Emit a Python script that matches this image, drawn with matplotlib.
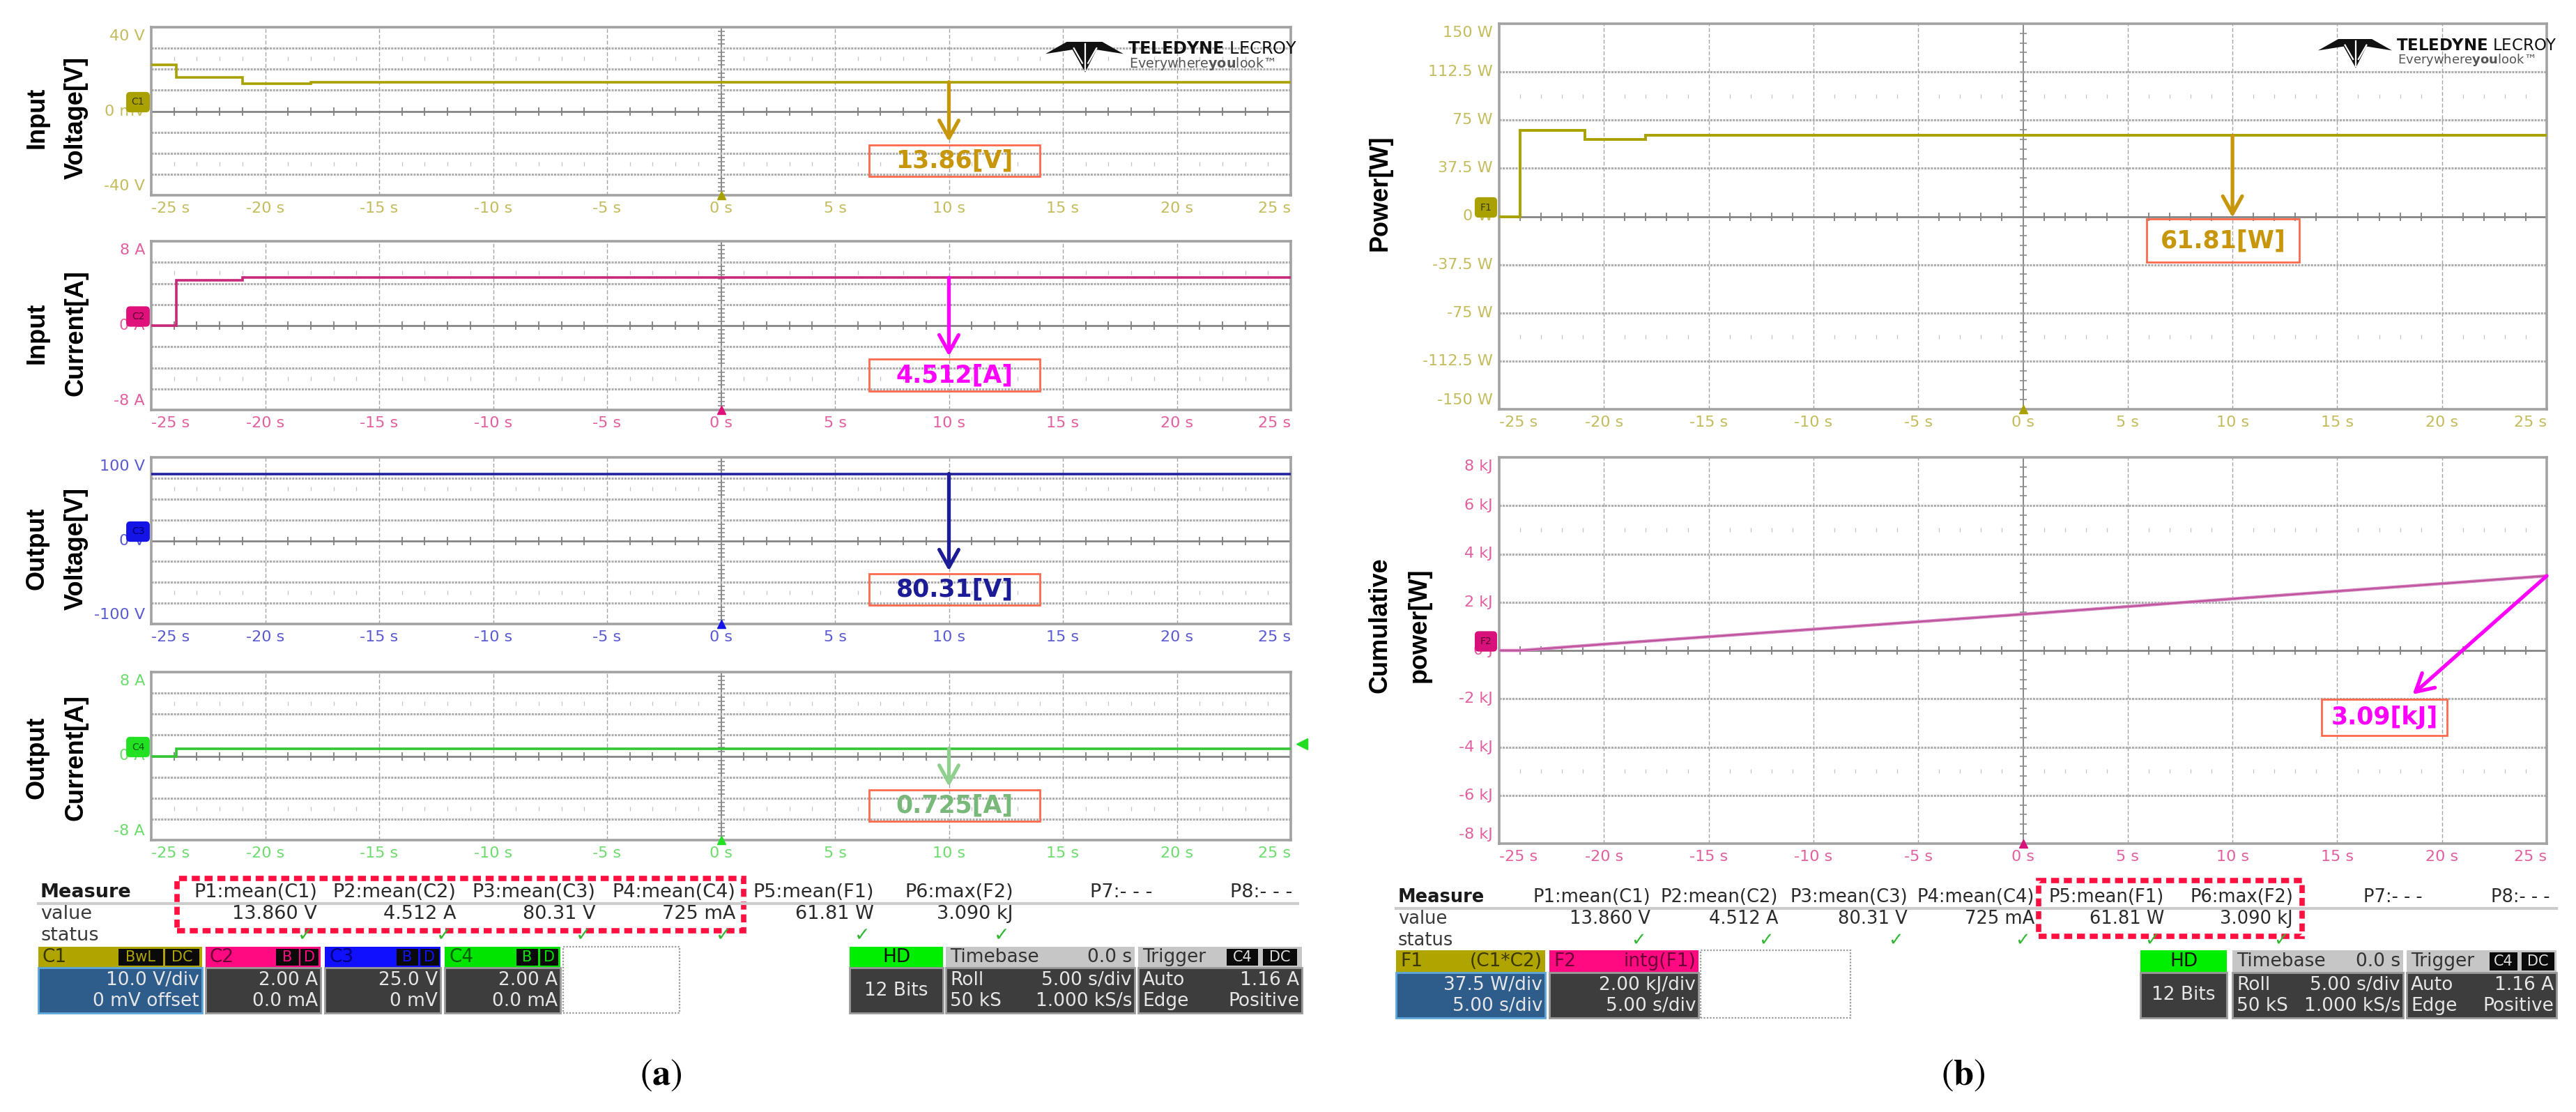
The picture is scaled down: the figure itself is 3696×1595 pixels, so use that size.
import matplotlib

matplotlib.use("Agg")
import matplotlib.pyplot as plt
import numpy as np
from matplotlib.lines import Line2D
from matplotlib.patches import Polygon, Rectangle

plt.rcParams["font.family"] = ["DejaVu Sans"]
plt.rcParams["mathtext.fontset"] = "stix"

W_PX, H_PX, DPI = 3696, 1595, 100

# ---------------------------------------------------------------- data
SCREEN_T = [-25, -20, -15, -10, -5, 0, 5, 10, 15, 20, 25]
TIME_LABELS = ["-25 s", "-20 s", "-15 s", "-10 s", "-5 s", "0 s",
               "5 s", "10 s", "15 s", "20 s", "25 s"]

# units per vertical division (8 divisions per screen)
VIN_DIV, IIN_DIV, VOUT_DIV, IOUT_DIV = 10.0, 2.0, 25.0, 2.0
PWR_DIV, ENERGY_DIV = 37.5, 2.0

VIN_EDGES = [-25.0, -23.9, -21.0, -18.0, 25.0]
VIN_LEVELS = [22.0, 16.0, 13.2, 13.9]
IIN_EDGES = [-25.0, -23.9, -21.0, 25.0]
IIN_LEVELS = [0.0, 4.3, 4.55]
VOUT_EDGES = [-25.0, 25.0]
VOUT_LEVELS = [80.3]
IOUT_EDGES = [-25.0, -23.9, 25.0]
IOUT_LEVELS = [0.0, 0.73]
PWR_EDGES = [-25.0, -24.0, -20.9, -18.0, 25.0]
PWR_LEVELS = [0.0, 67.0, 60.0, 63.0]
ENERGY_T = [-25.0, -24.0, -20.0, -10.0, 0.0, 10.0, 20.0, 25.0]
ENERGY_KJ = [0.0, 0.0, 0.26, 0.88, 1.50, 2.14, 2.77, 3.09]
TRIGGER_LEVEL = 1.16
READ_T = 10.0

READOUTS = ["13.86[V]", "4.512[A]", "80.31[V]", "0.725[A]", "61.81[W]", "3.09[kJ]"]

VIN_TICKS = ["40 V", "0 mV", "-40 V"]
IIN_TICKS = ["8 A", "0 A", "-8 A"]
VOUT_TICKS = ["100 V", "0 V", "-100 V"]
IOUT_TICKS = ["8 A", "0 A", "-8 A"]
PWR_TICKS = ["150 W", "112.5 W", "75 W", "37.5 W", "0 W",
             "-37.5 W", "-75 W", "-112.5 W", "-150 W"]
ENERGY_TICKS = ["8 kJ", "6 kJ", "4 kJ", "2 kJ", "0 J",
                "-2 kJ", "-4 kJ", "-6 kJ", "-8 kJ"]

MEASURE_NAMES = ["P1:mean(C1)", "P2:mean(C2)", "P3:mean(C3)", "P4:mean(C4)",
                 "P5:mean(F1)", "P6:max(F2)", "P7:- - -", "P8:- - -"]
MEASURE_VALUES = ["13.860 V", "4.512 A", "80.31 V", "725 mA",
                  "61.81 W", "3.090 kJ", "", ""]
MEASURE_OK = [True, True, True, True, True, True, False, False]

OLIVE, OLIVE_TXT = "#a9a100", "#c4bc5c"
PINK, PINK_TXT = "#c8287a", "#e2609f"
NAVY, NAVY_TXT = "#22229c", "#5a5ad2"
GREEN, GREEN_TXT = "#34c634", "#6cdc6c"
ENERGY_C = "#d47ac0"
BOX_EDGE = "#ff6a4d"

fig = plt.figure(figsize=(W_PX / DPI, H_PX / DPI), dpi=DPI)
fig.patch.set_facecolor("white")


def fx(x):
    return x / W_PX


def fy(y):
    return 1 - y / H_PX


def px_rect(x0, y0, x1, y1):
    return [fx(x0), fy(y1), (x1 - x0) / W_PX, (y1 - y0) / H_PX]


def draw_screen(ax, per_div, tick_color, y_ticks, tag, tag_color, tag_text_color):
    top = 4 * per_div
    ax.set_xlim(-25, 25)
    ax.set_ylim(-top, top)
    ax.set_xticks([])
    ax.set_yticks([])
    for spine in ax.spines.values():
        spine.set_color("#a2a2a2")
        spine.set_linewidth(2.6)
    for t in SCREEN_T[1:-1]:
        if t == 0:
            ax.axvline(0, color="#808080", lw=1.3, zorder=1)
        else:
            ax.axvline(t, color="#a4a4a4", lw=1.0, ls=(0, (4, 2)), zorder=1)
    for k in (-3, -2, -1, 1, 2, 3):
        ax.axhline(k * per_div, color="#adadad", lw=2.2, ls=(0, (1, 0.5)), zorder=1)
    ax.axhline(0, color="#808080", lw=1.9, zorder=1)
    minor_t = [t for t in range(-24, 25) if t % 5]
    ax.plot(minor_t, np.zeros(len(minor_t)), ls="none", marker="|", ms=8,
            mew=1.3, color="#808080", zorder=1)
    for row in (-2.5, 2.5):
        ax.plot(minor_t, np.full(len(minor_t), row * per_div), ls="none",
                marker="|", ms=5, mew=0.9, color="#c4c4c4", zorder=1)
    minor_v = [k * 0.2 * per_div for k in range(-19, 20) if k % 5]
    ax.plot(np.zeros(len(minor_v)), minor_v, ls="none", marker="_", ms=7,
            mew=1.2, color="#8c8c8c", zorder=1)
    ax.plot([0], [-top], marker="^", ms=9, color=tag_color, clip_on=False, zorder=8)

    for t, lab in zip(SCREEN_T, TIME_LABELS):
        ha = "left" if t == SCREEN_T[0] else "right" if t == SCREEN_T[-1] else "center"
        ax.annotate(lab, xy=(t, 0), xycoords=("data", "axes fraction"),
                    xytext=(0, -19), textcoords="offset pixels", ha=ha,
                    va="center", color=tick_color, fontsize=16)
    n = len(y_ticks)
    for i, lab in enumerate(y_ticks):
        level = top - i * (2 * top / (n - 1))
        va, dy = "center", 0
        if i == 0:
            va, dy = "top", -3
        elif i == n - 1:
            va, dy = "bottom", 3
        ax.annotate(lab, xy=(0, level), xycoords=("axes fraction", "data"),
                    xytext=(-9, dy), textcoords="offset pixels", ha="right",
                    va=va, color=tick_color, fontsize=16)
    ax.annotate(tag, xy=(0, 0), xycoords=("axes fraction", "data"),
                xytext=(-19, 13), textcoords="offset pixels", ha="center",
                va="center", fontsize=10, color=tag_text_color, zorder=9,
                bbox=dict(boxstyle="round,pad=0.5,rounding_size=0.35",
                          fc=tag_color, ec=tag_color, lw=1),
                annotation_clip=False)


def readout(ax, start, tip, box, text, text_color, arrow_color):
    ax.annotate("", xy=tip, xytext=start,
                arrowprops=dict(arrowstyle="->,head_length=0.9,head_width=0.5",
                                color=arrow_color, lw=3.8, shrinkA=0, shrinkB=0,
                                mutation_scale=20), zorder=6)
    x0, x1, y0, y1 = box
    ax.add_patch(Rectangle((x0, y0), x1 - x0, y1 - y0, fill=False,
                           ec=BOX_EDGE, lw=2.0, zorder=6))
    ax.text((x0 + x1) / 2, (y0 + y1) / 2, text, ha="center", va="center",
            fontsize=25, fontweight="bold", color=text_color, zorder=7)


def logo(x0, y0, size):
    s = size / 110.0
    body = [(0, 17), (30, 0), (80, 0), (110, 17), (72, 11), (56, 43), (38, 11)]
    fig.add_artist(Polygon([(fx(x0 + a * s), fy(y0 + b * s)) for a, b in body],
                           closed=True, fc="#111111", ec="none",
                           transform=fig.transFigure, zorder=5))
    for a0, b0, a1, b1 in [(56, 3, 56, 40), (40, 9, 52, 30), (72, 9, 60, 30)]:
        fig.add_artist(Line2D([fx(x0 + a0 * s), fx(x0 + a1 * s)],
                              [fy(y0 + b0 * s), fy(y0 + b1 * s)], color="white",
                              lw=1.6, transform=fig.transFigure, zorder=6))
    tx = x0 + size + 6
    fig.text(fx(tx), fy(y0 + 10 * s), r"$\mathbf{TELEDYNE}$ LECROY", fontsize=17 * s,
             math_fontfamily="dejavusans", color="#111111", va="center", zorder=6)
    fig.text(fx(tx + 2), fy(y0 + 31 * s), r"Everywhere$\mathbf{you}$look" + "\u2122",
             fontsize=13.5 * s, math_fontfamily="dejavusans", color="#555555",
             va="center", zorder=6)


# ---------------------------------------------------------------- (a) screens
LEFT_X = (217, 1852)
left_rows = [(39, 280), (346, 588), (656, 895), (964, 1205)]
left_cfg = [
    (VIN_DIV, OLIVE_TXT, VIN_TICKS, "C1", OLIVE, "#3d3a00", VIN_EDGES, VIN_LEVELS, OLIVE,
     "Input", "Voltage[V]", "#c8960a", "#c8960a"),
    (IIN_DIV, PINK_TXT, IIN_TICKS, "C2", "#e0107a", "#5a0030", IIN_EDGES, IIN_LEVELS, PINK,
     "Input", "Current[A]", "#ff00ff", "#ff00ff"),
    (VOUT_DIV, NAVY_TXT, VOUT_TICKS, "C3", "#1414e6", "#00006a", VOUT_EDGES, VOUT_LEVELS, NAVY,
     "Output", "Voltage[V]", "#1c1c96", "#1c1c96"),
    (IOUT_DIV, GREEN_TXT, IOUT_TICKS, "C4", "#22e022", "#005a00", IOUT_EDGES, IOUT_LEVELS, GREEN,
     "Output", "Current[A]", "#78b878", "#8fd08f"),
]
label_y = [169, 478, 787, 1087]
for idx, ((y0, y1), cfg) in enumerate(zip(left_rows, left_cfg)):
    (per_div, tick_c, ticks, tag, tag_c, tag_tc, edges, levels, trace_c,
     word1, word2, txt_c, arr_c) = cfg
    ax = fig.add_axes(px_rect(LEFT_X[0], y0, LEFT_X[1], y1))
    draw_screen(ax, per_div, tick_c, ticks, tag, tag_c, tag_tc)
    ax.stairs(levels, edges, baseline=None, color=trace_c, lw=2.6, zorder=4)
    readout(ax, (READ_T, levels[-1]), (READ_T, -1.45 * per_div),
            (6.5, 14.0, -3.1 * per_div, -1.6 * per_div), READOUTS[idx], txt_c, arr_c)
    if idx == 3:
        ax.plot([25.5], [TRIGGER_LEVEL], marker="<", ms=11, color="#22dd22",
                clip_on=False, zorder=8)
    fig.text(fx(53), fy(label_y[idx]), word1, rotation=90, ha="center", va="center",
             fontsize=26, fontweight="bold", family="Liberation Sans")
    fig.text(fx(109), fy(label_y[idx]), word2, rotation=90, ha="center", va="center",
             fontsize=26, fontweight="bold", family="Liberation Sans")
    if idx == 0:
        logo(1500, 60, 112)

# ---------------------------------------------------------------- (b) screens
RIGHT_X = (2151, 3654)
ax_p = fig.add_axes(px_rect(RIGHT_X[0], 34, RIGHT_X[1], 587))
draw_screen(ax_p, PWR_DIV, OLIVE_TXT, PWR_TICKS, "F1", OLIVE, "#3d3a00")
ax_p.stairs(PWR_LEVELS, PWR_EDGES, baseline=None, color=OLIVE, lw=2.8, zorder=4)
readout(ax_p, (READ_T, PWR_LEVELS[-1]), (READ_T, -0.02 * PWR_DIV),
        (5.9, 13.2, -0.95 * PWR_DIV, -0.05 * PWR_DIV), READOUTS[4], "#c8960a", "#c8960a")
logo(3326, 56, 106)
fig.text(fx(1980), fy(277), "Power[W]", rotation=90, ha="center", va="center",
         fontsize=26, fontweight="bold", family="Liberation Sans")

ax_e = fig.add_axes(px_rect(RIGHT_X[0], 656, RIGHT_X[1], 1210))
draw_screen(ax_e, ENERGY_DIV, PINK_TXT, ENERGY_TICKS, "F2", "#d8107a", "#5a0030")
ax_e.plot(ENERGY_T, ENERGY_KJ, color=ENERGY_C, lw=3.2, zorder=4)
ax_e.plot(ENERGY_T, ENERGY_KJ, color="#b0407e", lw=0.8, zorder=4)
readout(ax_e, (ENERGY_T[-1], ENERGY_KJ[-1]), (18.6, -1.82),
        (14.26, 20.25, -3.53, -2.02), READOUTS[5], "#ff00ff", "#ff00ff")
fig.text(fx(1980), fy(897), "Cumulative", rotation=90, ha="center", va="center",
         fontsize=26, fontweight="bold", family="Liberation Sans")
fig.text(fx(2036), fy(897), "power[W]", rotation=90, ha="center", va="center",
         fontsize=26, fontweight="bold", family="Liberation Sans")


# ---------------------------------------------------------------- tables
def fig_rect(x0, y0, x1, y1, **kw):
    fig.add_artist(Rectangle((fx(x0), fy(y1)), (x1 - x0) / W_PX, (y1 - y0) / H_PX,
                             transform=fig.transFigure, **kw))


def measure_table(x_lab, y_head, rights, size, span):
    y_val, y_stat = y_head + 31, y_head + 62
    fig.text(fx(x_lab), fy(y_head), "Measure", fontsize=size, fontweight="bold",
             va="center", color="#1a1a1a")
    fig.text(fx(x_lab), fy(y_val), "value", fontsize=size, va="center", color="#3a3a3a")
    fig.text(fx(x_lab), fy(y_stat), "status", fontsize=size, va="center", color="#3a3a3a")
    fig.add_artist(Line2D([fx(span[0]), fx(span[1])], [fy(y_head + 16)] * 2,
                          color="#cccccc", lw=3, transform=fig.transFigure))
    for r, name, val, ok in zip(rights, MEASURE_NAMES, MEASURE_VALUES, MEASURE_OK):
        fig.text(fx(r), fy(y_head), name, ha="right", va="center", fontsize=size,
                 color="#2a2a2a")
        fig.text(fx(r), fy(y_val), val, ha="right", va="center", fontsize=size,
                 color="#2a2a2a")
        if ok:
            fig.text(fx(r - 17), fy(y_stat), "\u2713", ha="center", va="center",
                     fontsize=size, fontweight="bold", color="#30b830")


def chan_box(x0, x1, y0, ym, y1, hdr_c, body_c, left, right, tags, tag_c, lines,
             size, hdr_tc="#202020", body_edge="#9a9a9a", center=False):
    fig_rect(x0, y0, x1, ym, fc=hdr_c, ec="none")
    fig_rect(x0, ym, x1, y1, fc=body_c, ec=body_edge, lw=2)
    if center:
        fig.text(fx((x0 + x1) / 2), fy((y0 + ym) / 2), left, ha="center", va="center",
                 fontsize=size, color=hdr_tc)
        fig.text(fx((x0 + x1) / 2), fy((ym + y1) / 2), lines[0][1], ha="center",
                 va="center", fontsize=size, color="#e6e6e6")
        return
    fig.text(fx(x0 + 6), fy((y0 + ym) / 2), left, ha="left", va="center",
             fontsize=size, color=hdr_tc)
    if right:
        fig.text(fx(x1 - 4), fy((y0 + ym) / 2), right, ha="right", va="center",
                 fontsize=size, color=hdr_tc)
    for bx0, bx1, label in tags:
        fig_rect(bx0, y0 + 3, bx1, ym - 3, fc="#0a0a0a", ec="none")
        fig.text(fx((bx0 + bx1) / 2), fy((y0 + ym) / 2), label, ha="center",
                 va="center", fontsize=size - 4, color=tag_c)
    for k, (lt, rt) in enumerate(lines):
        yy = ym + (y1 - ym) * (0.28 + 0.46 * k)
        if lt:
            fig.text(fx(x0 + 6), fy(yy), lt, ha="left", va="center", fontsize=size,
                     color="#e6e6e6")
        fig.text(fx(x1 - 4), fy(yy), rt, ha="right", va="center", fontsize=size,
                 color="#e6e6e6")


def dotted_box(x0, x1, y0, y1):
    fig_rect(x0, y0, x1, y1, fill=False, ec="#9a9a9a", lw=1.6, ls=(0, (1, 1)))


RED_DASH = dict(fill=False, ec="#ff1040", lw=5.5, ls=(0, (1.5, 0.9)))
STEEL, DARK, LIGHT = "#2e5d8c", "#3d3d3d", "#c6c6c6"

# (a)
measure_table(58, 1280, [455, 654, 854, 1055, 1254, 1454, 1654, 1854], 19.5, (55, 1862))
fig_rect(254, 1260, 1067, 1335, **RED_DASH)
ay0, aym, ay1 = 1358, 1388, 1453
chan_box(55, 290, ay0, aym, ay1, "#b0a500", STEEL, "C1", "",
         [(170, 234, "BwL"), (237, 286, "DC")], "#b0a500",
         [("", "10.0 V/div"), ("", "0 mV offset")], 19, "#3a3700", "#5ea6dc")
chan_box(295, 460, ay0, aym, ay1, "#ff0a80", DARK, "C2", "",
         [(396, 429, "B"), (431, 457, "D")], "#ff0a80",
         [("", "2.00 A"), ("", "0.0 mA")], 19, "#6a0036")
chan_box(466, 632, ay0, aym, ay1, "#1010ff", DARK, "C3", "",
         [(569, 600, "B"), (603, 630, "D")], "#1010ff",
         [("", "25.0 V"), ("", "0 mV")], 19, "#00007a")
chan_box(638, 804, ay0, aym, ay1, "#00e400", DARK, "C4", "",
         [(741, 772, "B"), (775, 801, "D")], "#00e400",
         [("", "2.00 A"), ("", "0.0 mA")], 19, "#005e00")
dotted_box(808, 975, ay0, ay1)
chan_box(1219, 1353, ay0, aym, ay1, "#00ee00", DARK, "HD", "", [], "",
         [("", "12 Bits")], 19, "#101010", center=True)
chan_box(1357, 1628, ay0, aym, ay1, LIGHT, DARK, "Timebase", "0.0 s", [], "",
         [("Roll", "5.00 s/div"), ("50 kS", "1.000 kS/s")], 19, "#333333")
chan_box(1633, 1868, ay0, aym, ay1, LIGHT, DARK, "Trigger", "",
         [(1760, 1805, "C4"), (1812, 1861, "DC")], "#e0e0e0",
         [("Auto", "1.16 A"), ("Edge", "Positive")], 19, "#333333")

# (b)
measure_table(2006, 1287, [2368, 2551, 2737, 2919, 3105, 3290, 3476, 3659], 18.5, (2003, 3668))
fig_rect(2925, 1263, 3303, 1343, **RED_DASH)
by0, bym, by1 = 1363, 1395, 1460
chan_box(2003, 2217, by0, bym, by1, "#b0a500", STEEL, "F1", "(C1*C2)", [], "",
         [("", "37.5 W/div"), ("", "5.00 s/div")], 19, "#3a3700", "#5ea6dc")
chan_box(2223, 2437, by0, bym, by1, "#ff0a80", DARK, "F2", "intg(F1)", [], "",
         [("", "2.00 kJ/div"), ("", "5.00 s/div")], 19, "#6a0036")
dotted_box(2440, 2655, by0, by1)
chan_box(3071, 3195, by0, bym, by1, "#00ee00", DARK, "HD", "", [], "",
         [("", "12 Bits")], 19, "#101010", center=True)
chan_box(3203, 3448, by0, bym, by1, LIGHT, DARK, "Timebase", "0.0 s", [], "",
         [("Roll", "5.00 s/div"), ("50 kS", "1.000 kS/s")], 19, "#333333")
chan_box(3453, 3668, by0, bym, by1, LIGHT, DARK, "Trigger", "",
         [(3572, 3612, "C4"), (3618, 3665, "DC")], "#e0e0e0",
         [("Auto", "1.16 A"), ("Edge", "Positive")], 19, "#333333")

# panel letters
fig.text(fx(948), fy(1543), r"($\mathbf{a}$)", ha="center", va="center",
         fontsize=38, family="STIXGeneral")
fig.text(fx(2817), fy(1543), r"($\mathbf{b}$)", ha="center", va="center",
         fontsize=38, family="STIXGeneral")

fig.savefig("out.png", dpi=DPI, facecolor="white")
plt.close(fig)
